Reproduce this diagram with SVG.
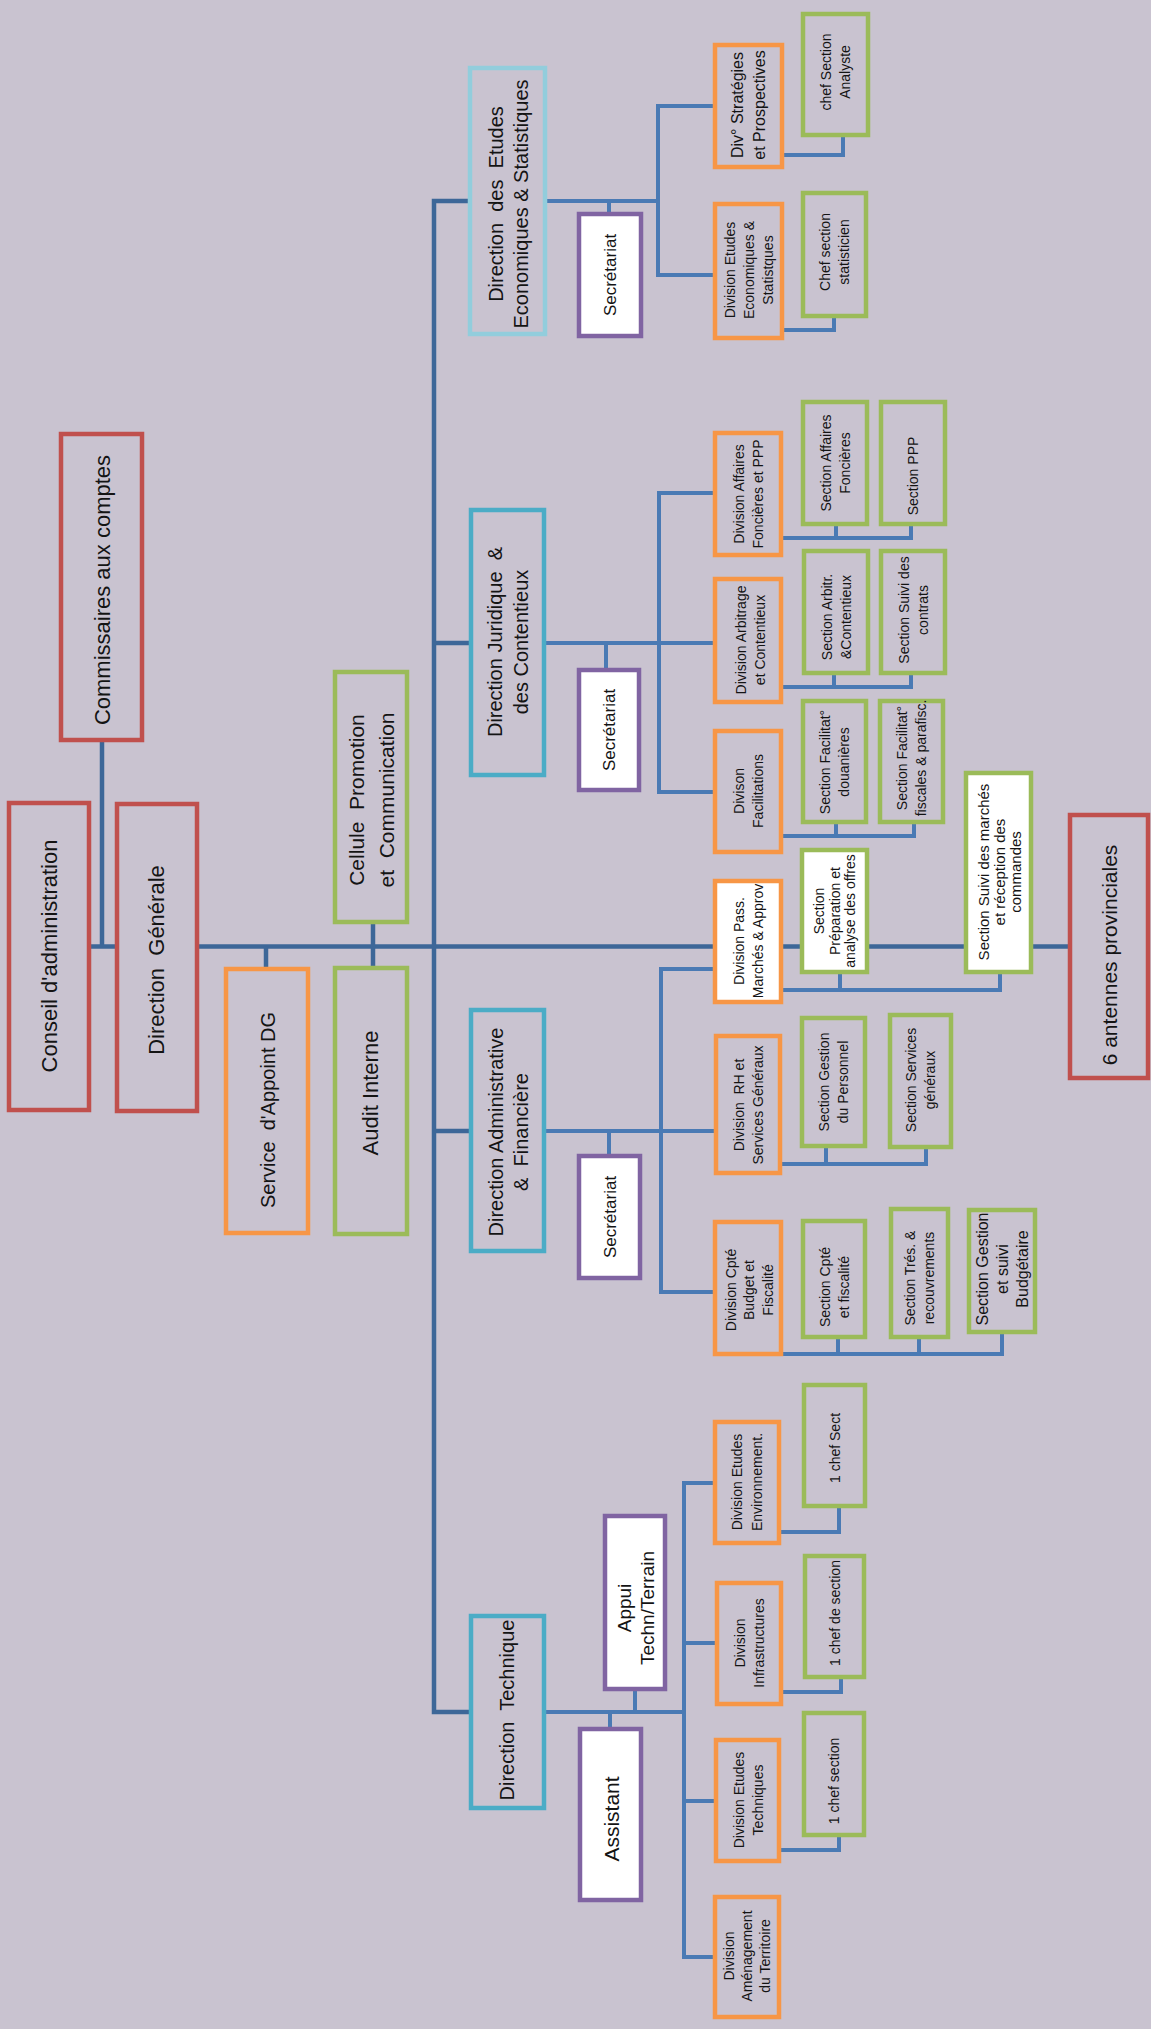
<svg xmlns="http://www.w3.org/2000/svg" width="1151" height="2029" viewBox="0 0 1151 2029">
<style>
.bg{fill:#c9c3d0}
rect.n{fill:none;stroke-width:4.5}
rect.w{fill:#ffffff}
.red{stroke:#c0504d}
.org{stroke:#f79646}
.grn{stroke:#9bbb59}
.lblu{stroke:#92cddc}
.teal{stroke:#4bacc6}
.pur{stroke:#8064a2}
text,tspan{font-family:"Liberation Sans",Arial,sans-serif;fill:#141414;text-anchor:middle;dominant-baseline:central}
.dark path{fill:none;stroke:#3d6798;stroke-width:4.5}
.lite path{fill:none;stroke:#4a7ab4;stroke-width:4}
</style>
<rect class="bg" x="0" y="0" width="1151" height="2029"/>
<g id="connectors">
<g class="dark">
<path d="M102,742 V946.5"/>
<path d="M91,946.5 H115"/>
<path d="M199,946.5 H1068"/>
<path d="M266,946.5 V967"/>
<path d="M373,924 V966"/>
<path d="M469,201 H434 V1712 H469"/>
<path d="M434,643 H469"/>
<path d="M434,1131 H469"/>
</g>
<g class="lite">
<path d="M547,201 H658"/><path d="M609,201 V212"/><path d="M713,106 H658 V275 H713"/>
<path d="M784,155 H843 V137"/>
<path d="M784,330 H834 V318"/>
<path d="M546,643 H713"/><path d="M606,643 V668"/><path d="M713,493 H659 V792 H713"/>
<path d="M783,538 H911 V526"/><path d="M836,538 V526"/>
<path d="M783,687 H911 V675"/><path d="M834,687 V675"/>
<path d="M783,836 H914 V824"/><path d="M836,836 V824"/>
<path d="M546,1131 H714"/><path d="M609,1131 V1154"/><path d="M713,969 H661 V1292 H713"/>
<path d="M783,990 H1000 V974"/><path d="M840,990 V974"/>
<path d="M782,1164 H926 V1149"/><path d="M826,1164 V1148"/>
<path d="M783,1354 H1002 V1334"/><path d="M838,1354 V1339"/><path d="M919,1354 V1339"/>
<path d="M546,1712 H684"/><path d="M610,1712 V1727"/><path d="M635,1712 V1690"/>
<path d="M713,1483 H684 V1957 H713"/><path d="M684,1643 H715"/><path d="M684,1801 H714"/>
<path d="M781,1532 H839 V1508"/>
<path d="M783,1692 H841 V1679"/>
<path d="M781,1850 H839 V1837"/>
</g>
</g>

<g id="commissaires"><rect class="n red" x="61" y="434" width="81" height="306"/><text transform="translate(101.5 590) rotate(-90)" font-size="22"><tspan x="0" y="0">Commissaires aux comptes</tspan></text></g>
<g id="conseil"><rect class="n red" x="9" y="803" width="80" height="307"/><text transform="translate(49 956) rotate(-90)" font-size="22"><tspan x="0" y="0">Conseil d'administration</tspan></text></g>
<g id="dg"><rect class="n red" x="117" y="804" width="80" height="307"/><text transform="translate(156 960) rotate(-90)" font-size="22"><tspan x="0" y="0">Direction&#160; Générale</tspan></text></g>
<g id="service-appoint"><rect class="n org" x="226" y="969" width="82" height="264"/><text transform="translate(268 1110) rotate(-90)" font-size="20"><tspan x="0" y="0">Service&#160; d'Appoint DG</tspan></text></g>
<g id="cellule"><rect class="n grn" x="335" y="672" width="72" height="250"/><text transform="translate(371 800) rotate(-90)" font-size="21"><tspan x="0" y="-15">Cellule&#160; Promotion</tspan><tspan x="0" y="15">et&#160; Communication</tspan></text></g>
<g id="audit"><rect class="n grn" x="335" y="968" width="72" height="266"/><text transform="translate(370 1093) rotate(-90)" font-size="22"><tspan x="0" y="0">Audit Interne</tspan></text></g>

<g id="dir-etudes"><rect class="n lblu" x="470" y="68" width="75" height="266"/><text transform="translate(508 204) rotate(-90)" font-size="20"><tspan x="0" y="-12.5">Direction&#160; des&#160; Etudes</tspan><tspan x="0" y="12.5">Economiques &amp; Statistiques</tspan></text></g>
<g id="sec-etudes"><rect class="n pur w" x="579" y="214" width="62" height="122"/><text transform="translate(610 275) rotate(-90)" font-size="17"><tspan x="0" y="0">Secrétariat</tspan></text></g>
<g id="div-strat"><rect class="n org" x="715" y="45" width="67" height="122"/><text transform="translate(748 105) rotate(-90)" font-size="16"><tspan x="0" y="-11">Div° Stratégies</tspan><tspan x="0" y="11">et Prospectives</tspan></text></g>
<g id="div-ees"><rect class="n org" x="715" y="204" width="67" height="134"/><text transform="translate(749 270) rotate(-90)" font-size="14"><tspan x="0" y="-19">Division Etudes</tspan><tspan x="0" y="0">Economiques &amp;</tspan><tspan x="0" y="19">Statistques</tspan></text></g>
<g id="chef-analyste"><rect class="n grn" x="803" y="14" width="65" height="121"/><text transform="translate(835.5 72) rotate(-90)" font-size="14"><tspan x="0" y="-9.5">chef Section</tspan><tspan x="0" y="9.5">Analyste</tspan></text></g>
<g id="chef-stat"><rect class="n grn" x="803" y="193" width="63" height="123"/><text transform="translate(834.5 252) rotate(-90)" font-size="14"><tspan x="0" y="-9.5">Chef section</tspan><tspan x="0" y="9.5">statisticien</tspan></text></g>

<g id="dir-juridique"><rect class="n teal" x="471" y="510" width="73" height="265"/><text transform="translate(507.5 642) rotate(-90)" font-size="20"><tspan x="0" y="-13">Direction Juridique&#160; &amp;</tspan><tspan x="0" y="13">des Contentieux</tspan></text></g>
<g id="sec-juridique"><rect class="n pur w" x="579" y="670" width="60" height="120"/><text transform="translate(609 730) rotate(-90)" font-size="17"><tspan x="0" y="0">Secrétariat</tspan></text></g>
<g id="div-affaires"><rect class="n org" x="715" y="433" width="66" height="122"/><text transform="translate(748 494) rotate(-90)" font-size="14"><tspan x="0" y="-9.5">Division Affaires</tspan><tspan x="0" y="9.5">Foncières et PPP</tspan></text></g>
<g id="div-arbitrage"><rect class="n org" x="715" y="579" width="66" height="123"/><text transform="translate(750 640) rotate(-90)" font-size="14"><tspan x="0" y="-9.5">Division Arbitrage</tspan><tspan x="0" y="9.5">et Contentieux</tspan></text></g>
<g id="div-facilitations"><rect class="n org" x="715" y="731" width="66" height="121"/><text transform="translate(748 791) rotate(-90)" font-size="14"><tspan x="0" y="-9.5">Divison</tspan><tspan x="0" y="9.5">Facilitations</tspan></text></g>
<g id="sec-affaires"><rect class="n grn" x="803" y="402" width="64" height="122"/><text transform="translate(835 463) rotate(-90)" font-size="14"><tspan x="0" y="-9.5">Section Affaires</tspan><tspan x="0" y="9.5">Foncières</tspan></text></g>
<g id="sec-ppp"><rect class="n grn" x="881" y="402" width="64" height="122"/><text transform="translate(913 476) rotate(-90)" font-size="14"><tspan x="0" y="0">Section PPP</tspan></text></g>
<g id="sec-arbitr"><rect class="n grn" x="804" y="551" width="64" height="122"/><text transform="translate(836 617) rotate(-90)" font-size="14"><tspan x="0" y="-9.5">Section Arbitr.</tspan><tspan x="0" y="9.5">&amp;Contentieux</tspan></text></g>
<g id="sec-suivi-contrats"><rect class="n grn" x="881" y="551" width="64" height="122"/><text transform="translate(913 610) rotate(-90)" font-size="14"><tspan x="0" y="-9.5">Section Suivi des</tspan><tspan x="0" y="9.5">contrats</tspan></text></g>
<g id="sec-fac-douane"><rect class="n grn" x="803" y="701" width="63" height="121"/><text transform="translate(834.5 762) rotate(-90)" font-size="14"><tspan x="0" y="-9.5">Section Facilitat°</tspan><tspan x="0" y="9.5">douanières</tspan></text></g>
<g id="sec-fac-fisc"><rect class="n grn" x="880" y="701" width="63" height="121"/><text transform="translate(911.5 758) rotate(-90)" font-size="14"><tspan x="0" y="-9.5">Section Facilitat°</tspan><tspan x="0" y="9.5">fiscales &amp; parafisc.</tspan></text></g>

<g id="div-pass"><rect class="n org w" x="715" y="881" width="66" height="121"/><text transform="translate(748 941) rotate(-90)" font-size="14"><tspan x="0" y="-9.5">Division Pass.</tspan><tspan x="0" y="9.5">Marchés &amp; Approv</tspan></text></g>
<g id="sec-prep"><rect class="n grn w" x="802" y="850" width="65" height="122"/><text transform="translate(834.5 911) rotate(-90)" font-size="14"><tspan x="0" y="-15.5">Section</tspan><tspan x="0" y="0">Préparation et</tspan><tspan x="0" y="15.5">analyse des offres</tspan></text></g>
<g id="sec-suivi-marches"><rect class="n grn w" x="966" y="773" width="65" height="199"/><text transform="translate(998.5 872) rotate(-90)" font-size="15"><tspan x="0" y="-16">Section Suivi des marchés</tspan><tspan x="0" y="0">et réception des</tspan><tspan x="0" y="16">commandes</tspan></text></g>
<g id="antennes"><rect class="n red" x="1070" y="815" width="78" height="263"/><text transform="translate(1109 955) rotate(-90)" font-size="21"><tspan x="0" y="0">6 antennes provinciales</tspan></text></g>

<g id="dir-admin"><rect class="n teal" x="471" y="1010" width="73" height="241"/><text transform="translate(508 1132) rotate(-90)" font-size="20"><tspan x="0" y="-12.5">Direction Administrative</tspan><tspan x="0" y="12.5">&amp;&#160; Financière</tspan></text></g>
<g id="sec-admin"><rect class="n pur w" x="579" y="1156" width="61" height="122"/><text transform="translate(609.5 1217) rotate(-90)" font-size="17"><tspan x="0" y="0">Secrétariat</tspan></text></g>
<g id="div-rh"><rect class="n org" x="716" y="1036" width="64" height="137"/><text transform="translate(748 1105) rotate(-90)" font-size="14"><tspan x="0" y="-9.5">Division&#160; RH et</tspan><tspan x="0" y="9.5">Services Généraux</tspan></text></g>
<g id="div-cpte"><rect class="n org" x="715" y="1222" width="66" height="132"/><text transform="translate(749 1290) rotate(-90)" font-size="14"><tspan x="0" y="-18.5">Division Cpté</tspan><tspan x="0" y="0">Budget et</tspan><tspan x="0" y="18.5">Fiscalité</tspan></text></g>
<g id="sec-personnel"><rect class="n grn" x="802" y="1018" width="63" height="128"/><text transform="translate(833.5 1082) rotate(-90)" font-size="14"><tspan x="0" y="-9.5">Section Gestion</tspan><tspan x="0" y="9.5">du Personnel</tspan></text></g>
<g id="sec-services"><rect class="n grn" x="890" y="1015" width="61" height="132"/><text transform="translate(920.5 1080) rotate(-90)" font-size="14"><tspan x="0" y="-9.5">Section Services</tspan><tspan x="0" y="9.5">généraux</tspan></text></g>
<g id="sec-cpte"><rect class="n grn" x="803" y="1221" width="62" height="116"/><text transform="translate(834 1287) rotate(-90)" font-size="14"><tspan x="0" y="-9.5">Section Cpté</tspan><tspan x="0" y="9.5">et fiscalité</tspan></text></g>
<g id="sec-tres"><rect class="n grn" x="891" y="1209" width="57" height="128"/><text transform="translate(919.5 1278) rotate(-90)" font-size="14"><tspan x="0" y="-9.5">Section Trés. &amp;</tspan><tspan x="0" y="9.5">recouvrements</tspan></text></g>
<g id="sec-budget"><rect class="n grn" x="969" y="1210" width="66" height="122"/><text transform="translate(1002 1269) rotate(-90)" font-size="16"><tspan x="0" y="-20">Section Gestion</tspan><tspan x="0" y="0">et suivi</tspan><tspan x="0" y="20">Budgétaire</tspan></text></g>

<g id="dir-technique"><rect class="n teal" x="471" y="1616" width="73" height="192"/><text transform="translate(507 1710) rotate(-90)" font-size="20"><tspan x="0" y="0">Direction&#160; Technique</tspan></text></g>
<g id="appui"><rect class="n pur w" x="605" y="1516" width="60" height="173"/><text transform="translate(635 1608) rotate(-90)" font-size="19"><tspan x="0" y="-11.5">Appui</tspan><tspan x="0" y="11.5">Techn/Terrain</tspan></text></g>
<g id="assistant"><rect class="n pur w" x="580" y="1729" width="61" height="171"/><text transform="translate(611 1819) rotate(-90)" font-size="21"><tspan x="0" y="0">Assistant</tspan></text></g>
<g id="div-env"><rect class="n org" x="715" y="1422" width="64" height="121"/><text transform="translate(747 1482) rotate(-90)" font-size="14"><tspan x="0" y="-10">Division Etudes</tspan><tspan x="0" y="10">Environnement.</tspan></text></g>
<g id="div-infra"><rect class="n org" x="717" y="1583" width="64" height="121"/><text transform="translate(749 1643) rotate(-90)" font-size="14"><tspan x="0" y="-9.5">Division</tspan><tspan x="0" y="9.5">Infrastructures</tspan></text></g>
<g id="div-tech"><rect class="n org" x="716" y="1740" width="63" height="121"/><text transform="translate(748 1800) rotate(-90)" font-size="14"><tspan x="0" y="-9.5">Division Etudes</tspan><tspan x="0" y="9.5">Techniques</tspan></text></g>
<g id="div-amen"><rect class="n org" x="715" y="1897" width="64" height="120"/><text transform="translate(747 1956) rotate(-90)" font-size="14"><tspan x="0" y="-18">Division</tspan><tspan x="0" y="0">Aménagement</tspan><tspan x="0" y="18">du Territoire</tspan></text></g>
<g id="chef-sect"><rect class="n grn" x="804" y="1385" width="61" height="121"/><text transform="translate(834.5 1448) rotate(-90)" font-size="14"><tspan x="0" y="0">1 chef Sect</tspan></text></g>
<g id="chef-de-section"><rect class="n grn" x="805" y="1556" width="59" height="121"/><text transform="translate(834.5 1613) rotate(-90)" font-size="14"><tspan x="0" y="0">1 chef de section</tspan></text></g>
<g id="chef-section"><rect class="n grn" x="804" y="1713" width="60" height="122"/><text transform="translate(834 1781) rotate(-90)" font-size="14"><tspan x="0" y="0">1 chef section</tspan></text></g>
</svg>
